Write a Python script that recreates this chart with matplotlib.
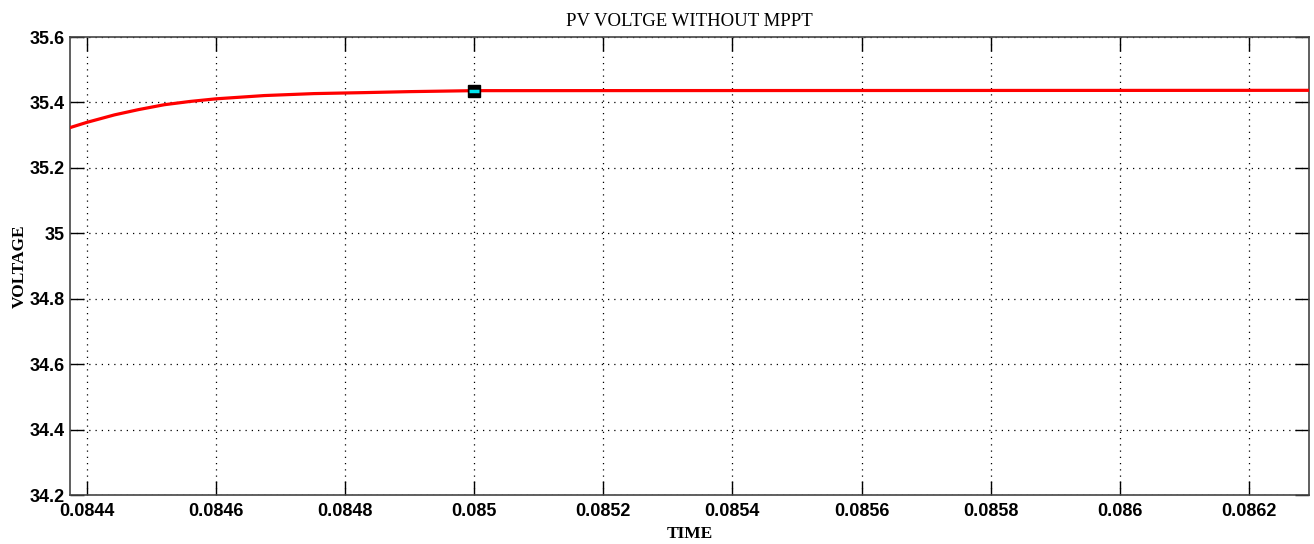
import matplotlib
matplotlib.use("Agg")
import matplotlib.pyplot as plt

# Data
time = [0.084374, 0.08440, 0.084443, 0.08448, 0.08452, 0.08456, 0.08460,
        0.084675, 0.084752, 0.08483, 0.08490, 0.08500, 0.08630]
voltage = [35.323, 35.339, 35.362, 35.378, 35.393, 35.403, 35.411,
           35.421, 35.427, 35.430, 35.433, 35.436, 35.437]
cursor_t = [0.0850]
cursor_v = [35.436]
xticks = [0.0844, 0.0846, 0.0848, 0.085, 0.0852, 0.0854, 0.0856, 0.0858, 0.086, 0.0862]
xticklabels = ["0.0844", "0.0846", "0.0848", "0.085", "0.0852", "0.0854",
               "0.0856", "0.0858", "0.086", "0.0862"]
yticks = [34.2, 34.4, 34.6, 34.8, 35.0, 35.2, 35.4, 35.6]
yticklabels = ["34.2", "34.4", "34.6", "34.8", "35", "35.2", "35.4", "35.6"]

tick_font = ["Liberation Sans Narrow", "Liberation Sans", "DejaVu Sans"]
serif = ["Liberation Serif", "DejaVu Serif"]

fig = plt.figure(figsize=(13.14, 5.44), dpi=100)
ax = fig.add_axes([70 / 1314, 1 - 495 / 544, (1309 - 70) / 1314, (495 - 37) / 544])

ax.plot(time, voltage, color="red", lw=2.3, zorder=3)
ax.plot(cursor_t, cursor_v, marker="s", ms=8, mfc="black", mec="black", ls="none", zorder=4)
ax.plot(cursor_t, cursor_v, marker="_", ms=7, mew=2.5, color="#00e5ee", ls="none", zorder=5)

ax.set_xlim(0.084374, 0.086293)
ax.set_ylim(34.2, 35.6)
ax.set_xticks(xticks)
ax.set_xticklabels(xticklabels)
ax.set_yticks(yticks)
ax.set_yticklabels(yticklabels)

ax.grid(True, color="black", linestyle=(0, (1, 4)), linewidth=0.9)
ax.tick_params(direction="in", length=10, width=1, top=True, right=True,
               colors="black")
ax.tick_params(axis="x", pad=6)
ax.tick_params(axis="y", pad=4)
for lbl in ax.get_xticklabels() + ax.get_yticklabels():
    lbl.set_family(tick_font)
    lbl.set_fontweight("bold")
    lbl.set_fontsize(13)
for sp in ax.spines.values():
    sp.set_color("#444444")
    sp.set_linewidth(1.2)

ax.set_title("PV VOLTGE WITHOUT MPPT", family=serif, fontsize=13.5, pad=8)
ax.set_xlabel("TIME", family=serif, fontsize=12.5, fontweight="bold", labelpad=4)
ax.set_ylabel("VOLTAGE", family=serif, fontsize=12.5, fontweight="bold", labelpad=1)

fig.savefig("out.png", dpi=100, facecolor="white")
